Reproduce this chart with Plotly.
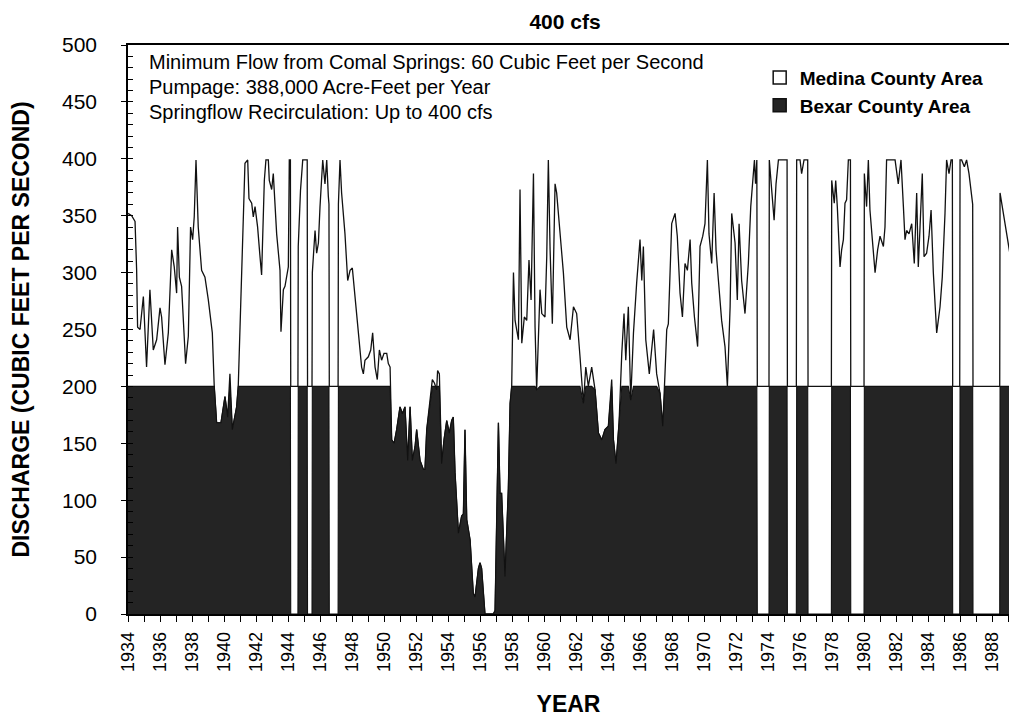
import plotly.graph_objects as go

# ---- data (year, total recirculation discharge in cfs) ----
YEARS = [
    1934.00, 1934.23, 1934.44, 1934.54, 1934.60, 1934.75, 1934.96, 1935.16, 1935.37, 1935.58,
    1935.79, 1936.00, 1936.10, 1936.31, 1936.52, 1936.73, 1936.89, 1937.04, 1937.10, 1937.21,
    1937.35, 1937.60, 1937.77, 1937.91, 1938.04, 1938.14, 1938.25, 1938.39, 1938.60, 1938.81,
    1939.02, 1939.27, 1939.39, 1939.54, 1939.81, 1940.06, 1940.23, 1940.37, 1940.52, 1940.79,
    1940.89, 1941.00, 1941.14, 1941.31, 1941.48, 1941.56, 1941.73, 1941.83, 1941.94, 1942.10,
    1942.25, 1942.35, 1942.52, 1942.62, 1942.77, 1942.83, 1942.98, 1943.08, 1943.29, 1943.50,
    1943.56, 1943.71, 1943.81, 1944.02, 1944.08, 1944.15, 1944.17, 1944.62, 1944.64, 1944.78,
    1944.92, 1945.17, 1945.20, 1945.22, 1945.50, 1945.52, 1945.69, 1945.79, 1945.90, 1946.00,
    1946.10, 1946.17, 1946.31, 1946.42, 1946.52, 1946.56, 1946.58, 1947.13, 1947.15, 1947.25,
    1947.35, 1947.56, 1947.73, 1947.88, 1948.02, 1948.19, 1948.40, 1948.60, 1948.71, 1948.81,
    1949.02, 1949.17, 1949.29, 1949.44, 1949.58, 1949.71, 1949.85, 1950.00, 1950.17, 1950.27,
    1950.38, 1950.48, 1950.63, 1950.79, 1951.00, 1951.15, 1951.31, 1951.48, 1951.63, 1951.77,
    1951.94, 1952.04, 1952.25, 1952.46, 1952.56, 1952.67, 1952.88, 1953.02, 1953.15, 1953.29,
    1953.35, 1953.46, 1953.60, 1953.75, 1953.92, 1954.08, 1954.23, 1954.33, 1954.44, 1954.65,
    1954.85, 1954.96, 1955.06, 1955.17, 1955.38, 1955.58, 1955.69, 1955.90, 1956.00, 1956.10,
    1956.31, 1956.83, 1956.94, 1957.15, 1957.25, 1957.35, 1957.56, 1957.77, 1957.88, 1957.98,
    1958.09, 1958.19, 1958.40, 1958.50, 1958.61, 1958.77, 1958.92, 1959.06, 1959.19, 1959.34,
    1959.44, 1959.54, 1959.75, 1959.86, 1960.06, 1960.17, 1960.27, 1960.38, 1960.52, 1960.69,
    1960.79, 1961.00, 1961.21, 1961.42, 1961.63, 1961.84, 1962.04, 1962.25, 1962.46, 1962.61,
    1962.77, 1962.98, 1963.19, 1963.40, 1963.61, 1963.81, 1964.02, 1964.23, 1964.34, 1964.50,
    1964.69, 1964.86, 1965.00, 1965.11, 1965.27, 1965.42, 1965.59, 1965.79, 1966.00, 1966.11,
    1966.21, 1966.36, 1966.58, 1966.85, 1967.04, 1967.25, 1967.42, 1967.56, 1967.67, 1967.77,
    1967.98, 1968.19, 1968.33, 1968.50, 1968.65, 1968.81, 1968.96, 1969.13, 1969.23, 1969.40,
    1969.60, 1969.75, 1969.92, 1970.06, 1970.21, 1970.31, 1970.48, 1970.63, 1970.75, 1970.90,
    1971.10, 1971.31, 1971.46, 1971.63, 1971.73, 1971.94, 1972.08, 1972.19, 1972.35, 1972.56,
    1972.77, 1972.92, 1973.04, 1973.15, 1973.22, 1973.30, 1973.33, 1974.06, 1974.08, 1974.23,
    1974.38, 1974.50, 1974.65, 1975.17, 1975.19, 1975.21, 1975.77, 1975.79, 1976.00, 1976.10,
    1976.25, 1976.48, 1976.50, 1977.96, 1977.98, 1978.14, 1978.23, 1978.33, 1978.50, 1978.60,
    1978.71, 1978.81, 1978.91, 1979.02, 1979.15, 1979.17, 1980.00, 1980.02, 1980.16, 1980.27,
    1980.37, 1980.52, 1980.69, 1980.85, 1981.00, 1981.21, 1981.31, 1981.41, 1981.94, 1982.14,
    1982.31, 1982.46, 1982.56, 1982.66, 1982.81, 1982.98, 1983.14, 1983.29, 1983.39, 1983.50,
    1983.64, 1983.75, 1983.91, 1984.06, 1984.19, 1984.33, 1984.54, 1984.75, 1984.89, 1985.06,
    1985.16, 1985.31, 1985.44, 1985.52, 1985.54, 1985.98, 1986.00, 1986.10, 1986.27, 1986.41,
    1986.56, 1986.73, 1986.79, 1986.81, 1988.48, 1988.50, 1988.64, 1988.81, 1989.10,
]
TOTAL_CFS = [
    352, 350, 345, 302, 252, 250, 279, 217, 285, 232,
    241, 269, 261, 219, 247, 320, 305, 282, 340, 296,
    288, 220, 244, 340, 329, 349, 399, 340, 302, 296,
    276, 247, 200, 168, 168, 191, 173, 211, 162, 182,
    200, 252, 314, 396, 399, 365, 361, 349, 358, 340,
    314, 298, 381, 399, 399, 381, 373, 387, 334, 302,
    248, 285, 288, 305, 399, 399, 200, 200, 323, 372,
    399, 399, 399, 200, 200, 300, 337, 317, 326, 358,
    381, 399, 378, 399, 367, 360, 200, 200, 360, 399,
    370, 334, 293, 302, 304, 276, 247, 217, 211, 223,
    226, 232, 247, 217, 206, 232, 223, 229, 229, 220,
    217, 153, 150, 162, 182, 176, 182, 135, 182, 135,
    147, 162, 135, 127, 127, 162, 188, 206, 203, 197,
    214, 211, 132, 153, 170, 159, 170, 173, 124, 71,
    86, 88, 162, 83, 65, 18, 15, 40, 45, 40,
    0, 0, 3, 168, 106, 106, 33, 110, 185, 200,
    300, 258, 241, 373, 238, 261, 258, 311, 276, 387,
    252, 197, 285, 264, 261, 314, 399, 320, 255, 378,
    370, 337, 300, 252, 241, 270, 264, 226, 185, 217,
    200, 217, 197, 159, 153, 162, 165, 206, 153, 132,
    168, 229, 264, 223, 270, 188, 247, 291, 329, 293,
    323, 241, 211, 250, 211, 194, 165, 211, 250, 255,
    343, 352, 332, 282, 261, 308, 302, 329, 291, 261,
    235, 323, 332, 343, 399, 334, 308, 370, 320, 293,
    258, 235, 200, 270, 352, 326, 276, 343, 293, 264,
    308, 358, 381, 399, 378, 399, 200, 200, 399, 373,
    346, 378, 399, 399, 399, 200, 200, 399, 399, 387,
    399, 399, 200, 200, 381, 361, 381, 358, 305, 320,
    329, 361, 364, 399, 399, 200, 200, 387, 358, 399,
    355, 329, 300, 320, 332, 323, 340, 399, 399, 378,
    399, 358, 329, 337, 334, 343, 308, 370, 305, 340,
    387, 314, 317, 332, 355, 300, 247, 270, 296, 352,
    399, 387, 399, 399, 200, 200, 399, 399, 393, 399,
    387, 367, 360, 200, 200, 370, 358, 346, 318,
]
# periods in which the Bexar County area receives no recirculated water
BEXAR_OFF = [
    (1944.17, 1944.62), (1945.22, 1945.50), (1946.58, 1947.13),
    (1973.33, 1974.06), (1975.21, 1975.77), (1976.50, 1977.96),
    (1979.17, 1980.00), (1985.54, 1985.98), (1986.81, 1988.48),
]
BEXAR_CAP = 200  # cfs delivered to the Bexar County area before Medina receives the rest

X_TICK_YEARS = [1934, 1936, 1938, 1940, 1942, 1944, 1946, 1948, 1950, 1952, 1954, 1956, 1958,
                1960, 1962, 1964, 1966, 1968, 1970, 1972, 1974, 1976, 1978, 1980, 1982, 1984,
                1986, 1988]
Y_TICKS = [0, 50, 100, 150, 200, 250, 300, 350, 400, 450, 500]

NOTES = [
    "Minimum Flow from Comal Springs: 60 Cubic Feet per Second",
    "Pumpage: 388,000 Acre-Feet per Year",
    "Springflow Recirculation: Up to 400 cfs",
]


def bexar_share(year, total):
    if any(a <= year <= b for a, b in BEXAR_OFF):
        return 0
    return min(total, BEXAR_CAP)


BEXAR = [bexar_share(yr, v) for yr, v in zip(YEARS, TOTAL_CFS)]

FONT = "Liberation Sans, Arial, Helvetica, sans-serif"
DARK = "#242424"
X_RANGE = [1934, 1989.06]
Y_RANGE = [0, 500]

fig = go.Figure()
fig.add_trace(go.Scatter(
    x=YEARS, y=TOTAL_CFS, mode="lines", fill="tozeroy", fillcolor="white",
    line=dict(color="#111111", width=1.3), name="Medina County Area", showlegend=False,
    hoverinfo="x+y"))
fig.add_trace(go.Scatter(
    x=YEARS, y=BEXAR, mode="lines", fill="tozeroy", fillcolor=DARK,
    line=dict(color="#111111", width=1.1), name="Bexar County Area", showlegend=False,
    hoverinfo="x+y"))
# legend entries (square swatches)
fig.add_trace(go.Scatter(
    x=[None], y=[None], mode="markers", name="<b>Medina County Area</b>",
    marker=dict(symbol="square", size=13, color="white", line=dict(color="#111", width=1.5)),
    yaxis="y2"))
fig.add_trace(go.Scatter(
    x=[None], y=[None], mode="markers", name="<b>Bexar County Area</b>",
    marker=dict(symbol="square", size=13, color=DARK, line=dict(color="#111", width=1.5)),
    yaxis="y2"))

annotations = []
for i, t in enumerate(NOTES):
    annotations.append(dict(
        text=t, xref="paper", yref="paper", x=0.0215, y=0.970 - i * 0.0440,
        xanchor="left", yanchor="middle", showarrow=False,
        font=dict(family=FONT, size=20, color="black")))

fig.update_layout(
    width=1009, height=717,
    margin=dict(l=128, r=0, t=45, b=103, autoexpand=False),
    paper_bgcolor="white", plot_bgcolor="white",
    font=dict(family=FONT, color="black"),
    title=dict(text="<b>400 cfs</b>", x=565 / 1009, xref="container", xanchor="center",
               y=1 - 22 / 717, yref="container", yanchor="middle",
               font=dict(family=FONT, size=21, color="black")),
    showlegend=True,
    legend=dict(x=0.717, y=0.976, xanchor="left", yanchor="top",
                font=dict(family=FONT, size=19, color="black"),
                bgcolor="rgba(0,0,0,0)", borderwidth=0, itemwidth=30),
    annotations=annotations,
    xaxis=dict(
        range=X_RANGE, tickmode="array", tickvals=X_TICK_YEARS,
        ticktext=[str(y) for y in X_TICK_YEARS], tickangle=-90,
        ticks="outside", ticklen=6, tickwidth=1, tickcolor="black",
        minor=dict(dtick=1, tick0=1934, ticks="outside", ticklen=6, tickwidth=1, tickcolor="black"),
        tickfont=dict(family=FONT, size=18, color="black"), ticklabelstandoff=3,
        showline=True, linecolor="black", linewidth=1.5, mirror=True,
        showgrid=False, zeroline=False,
        title=dict(text="<b>YEAR</b>", font=dict(family=FONT, size=23, color="black"), standoff=28),
    ),
    yaxis=dict(
        range=Y_RANGE, tickmode="array", tickvals=Y_TICKS,
        ticks="outside", ticklen=5, tickwidth=1, tickcolor="black",
        tickfont=dict(family=FONT, size=21, color="black"), ticklabelstandoff=20,
        showline=True, linecolor="black", linewidth=1.5,
        showgrid=False, zeroline=False,
        title=dict(text="<b>DISCHARGE (CUBIC FEET PER SECOND)</b>",
                   font=dict(family=FONT, size=23, color="black"), standoff=26),
    ),
    yaxis2=dict(
        range=Y_RANGE, overlaying="y", side="left", showticklabels=False,
        tickmode="linear", tick0=0, dtick=10, ticks="inside", ticklen=5,
        tickwidth=1, tickcolor="black", showgrid=False, zeroline=False, showline=False),
)

fig.write_html(
    "out.html",
    config={"displayModeBar": False},
    post_script="document.body.style.margin='0px';document.body.style.overflow='hidden';",
)
